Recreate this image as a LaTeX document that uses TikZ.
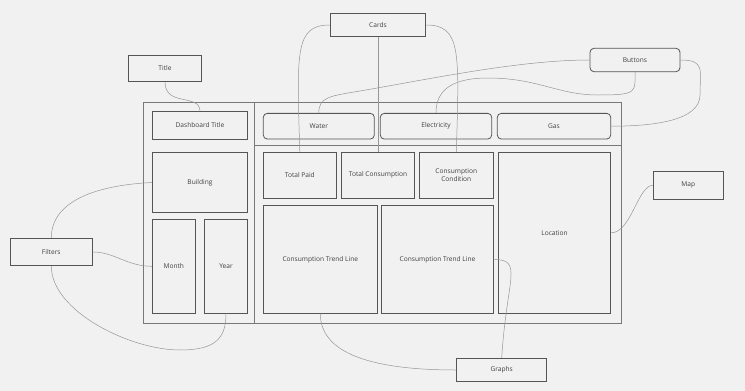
\documentclass[tikz,border=0pt]{standalone}
\usepackage{fontspec}
\setmainfont{Open Sans}
\definecolor{paper}{RGB}{241,241,241}
\definecolor{boxline}{RGB}{85,85,85}
\definecolor{frameline}{RGB}{120,120,120}
\definecolor{wire}{RGB}{150,150,150}

\begin{document}
\begin{tikzpicture}[x=1pt,y=-1pt,
  every node/.style={inner sep=1pt,font=\fontsize{6.6}{7.8}\selectfont,text=black!75},
  part/.style={draw=boxline,line width=0.8pt,align=center},
  btn/.style={part,rounded corners=4pt},
  note/.style={draw=boxline,line width=0.8pt},
  link/.style={draw=wire,line width=0.5pt}]
\fill[paper] (0,0) rectangle (745,391);
\useasboundingbox (0,0) rectangle (745,391);
% dashboard frame
\draw[frameline,line width=1.1pt] (143.3,102.7) rectangle (621.7,323.3);
\draw[frameline,line width=1.1pt] (254.3,102.7) -- (254.3,323.3);
\draw[frameline,line width=1.1pt] (254.3,145.7) -- (621.7,145.7);
% left column
\node[part,minimum width=95.4pt,minimum height=27.3pt] (dtitle) at (200,125.3) {Dashboard Title};
\node[part,minimum width=95.4pt,minimum height=60.4pt] (building) at (200,182.5) {Building};
\node[part,minimum width=43pt,minimum height=94pt] (month) at (173.8,266.3) {Month};
\node[part,minimum width=43.4pt,minimum height=94pt] (year) at (226,266.3) {Year};
% buttons row
\node[btn,minimum width=111pt,minimum height=25.7pt] (water) at (318.8,126.2) {Water};
\node[btn,minimum width=111.4pt,minimum height=25.7pt] (elec) at (436,126.2) {Electricity};
\node[btn,minimum width=113.4pt,minimum height=25.7pt] (gas) at (554,126.2) {Gas};
% cards
\node[part,minimum width=73pt,minimum height=45.7pt] (tpaid) at (299.8,175.2) {Total Paid};
\node[part,minimum width=73.4pt,minimum height=45.7pt] (tcons) at (378,175.2) {Total Consumption};
\node[part,minimum width=74pt,minimum height=45.7pt] (ccond) at (456.3,175.2) {Consumption\\Condition};
\node[part,minimum width=112.4pt,minimum height=161pt] (loc) at (554.5,232.8) {Location};
% graphs
\node[part,minimum width=114pt,minimum height=107.6pt] (trendA) at (320.3,259.5) {Consumption Trend Line};
\node[part,minimum width=111.6pt,minimum height=107.6pt] (trendB) at (437.5,259.5) {Consumption Trend Line};
% labels round the dashboard
\node[note,minimum width=73.4pt,minimum height=26.7pt] (title) at (165,68.3) {Title};
\node[note,minimum width=95.7pt,minimum height=23.4pt] (cards) at (378,25) {Cards};
\node[btn,minimum width=90pt,minimum height=23.4pt] (buttons) at (635,60) {Buttons};
\node[note,minimum width=70pt,minimum height=27.3pt] (map) at (688.3,185.3) {Map};
\node[note,minimum width=82pt,minimum height=27.4pt] (filters) at (51.3,252) {Filters};
\node[note,minimum width=90pt,minimum height=23.4pt] (graphs) at (501.7,370) {Graphs};
% connectors
\path[link] (title.south) .. controls +(0,25) and +(0,-18) .. (dtitle.north);
\path[link] (cards.west) .. controls +(-35,0) and +(-3,-100) .. (tpaid.north);
\path[link] (cards.south) -- (tcons.north);
\path[link] (cards.east) .. controls +(35,0) and +(3,-100) .. (ccond.north);
\path[link] (buttons.west) .. controls +(-70,0) and +(70,-12) .. (360,91)
  .. controls +(-30,5) and +(0,-16) .. (water.north);
\path[link] (buttons.south) .. controls +(0,20) and +(40,0) .. (598,95)
  .. controls +(-40,0) and +(50,0) .. (488,78)
  .. controls +(-40,0) and +(0,-20) .. (elec.north);
\path[link] (buttons.east) .. controls +(25,0) and +(0,-25) .. (700,95)
  .. controls +(0,25) and +(45,0) .. (gas.east);
\path[link] (map.west) .. controls +(-15,0) and +(20,0) .. (loc.east);
\path[link] (building.west) .. controls +(-60,3) and +(0,-35) .. (filters.north);
\path[link] (filters.east) .. controls +(22,0) and +(-25,0) .. (month.west);
\path[link] (filters.south) .. controls +(0,45) and +(-50,0) .. (180,350)
  .. controls +(35,0) and +(0,25) .. (year.south);
\path[link] (trendA.south) .. controls +(0,45) and +(-70,0) .. (graphs.west);
\path[link] (trendB.east) .. controls +(30,0) and +(5,-80) .. (graphs.north);
\end{tikzpicture}
\end{document}
